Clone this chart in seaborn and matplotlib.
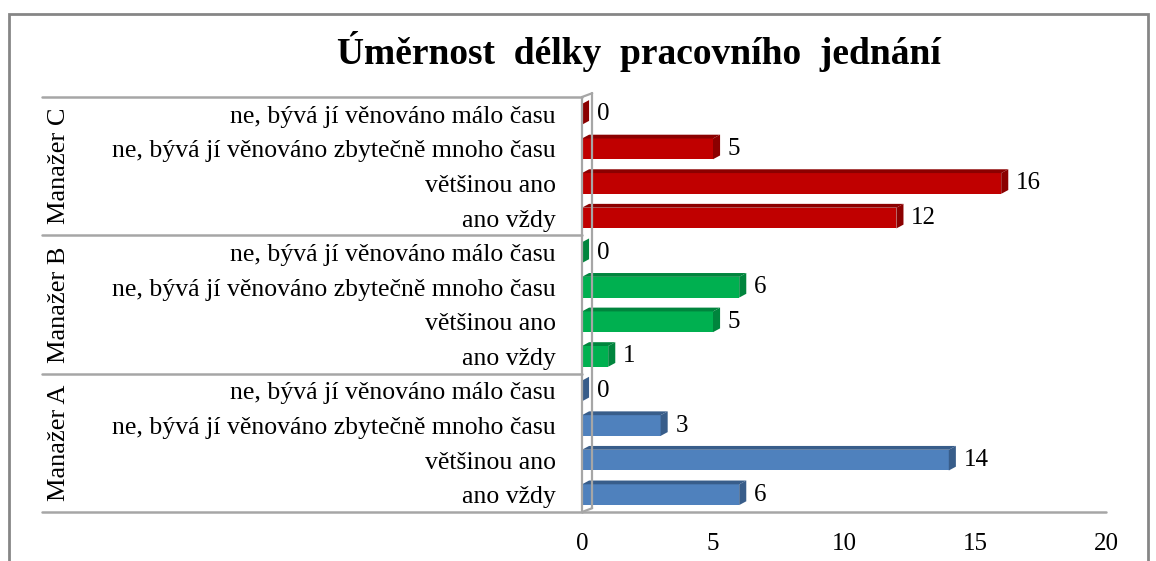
import pandas as pd
import matplotlib.pyplot as plt
import seaborn as sns
from matplotlib.patches import Polygon, Rectangle

# data
managers = ["Manažer A", "Manažer B", "Manažer C"]
categories = ["ano vždy", "většinou ano",
              "ne, bývá jí věnováno zbytečně mnoho času",
              "ne, bývá jí věnováno málo času"]
vals_a = [6, 14, 3, 0]
vals_b = [1, 5, 6, 0]
vals_c = [12, 16, 5, 0]
x_ticks = [0, 5, 10, 15, 20]

front = {"Manažer A": "#4F81BD", "Manažer B": "#00B050", "Manažer C": "#C00000"}
dark = {"Manažer A": "#385D8A", "Manažer B": "#00853D", "Manažer C": "#8B0000"}

rows = []
for m, vals in zip(managers, [vals_a, vals_b, vals_c]):
    for c, v in zip(categories, vals):
        rows.append({"manager": m, "category": c, "value": v, "key": m + "|" + c})
df = pd.DataFrame(rows)

# top to bottom: C, B, A; inside each group reversed category order
order = [m + "|" + c for m in reversed(managers) for c in reversed(categories)]

sns.set_theme(style="white")
plt.rcParams["font.family"] = ["Liberation Serif", "DejaVu Serif"]
plt.rcParams["text.color"] = "black"
plt.rcParams["xtick.color"] = "black"
plt.rcParams["ytick.color"] = "black"

fig = plt.figure(figsize=(11.56, 5.61), dpi=100)
ax_left, ax_right = 582, 1106
ax = fig.add_axes([ax_left / 1156, 1 - 512 / 561, (ax_right - ax_left) / 1156, (512 - 97) / 561])

sns.barplot(data=df, y="key", x="value", hue="manager", order=order,
            hue_order=managers, palette=front, dodge=False, width=0.6,
            saturation=1, legend=False, ax=ax)

ax.set_xlim(0, 20)
ax.set_ylim(len(order) - 0.5, -0.5)

# fake 3D depth, derived from each bar's geometry
dx, dy = 0.27, 0.11
key_to_manager = dict(zip(df["key"], df["manager"]))
for patch in list(ax.patches):
    x0, y0 = patch.get_x(), patch.get_y()
    w, h = patch.get_width(), patch.get_height()
    yc = y0 + h / 2
    idx = int(round(yc))
    if idx < 0 or idx >= len(order):
        continue
    m = key_to_manager[order[idx]]
    patch.set_edgecolor("none")
    top = Polygon([(x0, y0), (x0 + dx, y0 - dy), (x0 + w + dx, y0 - dy), (x0 + w, y0)],
                  closed=True, fc=dark[m], ec="none")
    side = Polygon([(x0 + w, y0), (x0 + w + dx, y0 - dy), (x0 + w + dx, y0 + h - dy), (x0 + w, y0 + h)],
                   closed=True, fc=dark[m], ec="none")
    ax.add_patch(top)
    ax.add_patch(side)
    val = df.loc[df["key"] == order[idx], "value"].iloc[0]
    ax.text(x0 + w + dx + 0.3, yc, f"{val:g}", va="center", ha="left", fontsize=18)

# axes frame: back wall + floor
for s in ax.spines.values():
    s.set_visible(False)
grey = "#A6A6A6"
lo, hi = len(order) - 0.5, -0.5
ax.plot([dx + 0.12, dx + 0.12], [hi - dy, lo - dy], color=grey, lw=1.6, clip_on=False)
ax.plot([0, dx + 0.12], [hi, hi - dy], color=grey, lw=1.6, clip_on=False)
ax.plot([0, dx + 0.12], [lo, lo - dy], color=grey, lw=1.6, clip_on=False)
ax.plot([0, 0], [hi, lo], color=grey, lw=1.6, clip_on=False)
ax.plot([0, 20], [lo, lo], color=grey, lw=1.8, clip_on=False)

# group separators reaching into the label area
trans = ax.get_yaxis_transform()
sep_left = (42 - ax_left) / (ax_right - ax_left)
for b in [-0.5, 3.5, 7.5, 11.5]:
    ax.plot([sep_left, 0], [b, b], color=grey, lw=1.8, transform=trans, clip_on=False)

# tick labels
ax.set_yticks(range(len(order)))
ax.set_yticklabels([k.split("|")[1] for k in order], fontsize=18.5)
ax.set_xticks(x_ticks)
ax.set_xticklabels([str(t) for t in x_ticks], fontsize=18)
ax.tick_params(axis="y", length=0, pad=19)
ax.tick_params(axis="x", length=0, pad=15)
ax.set_xlabel("")
ax.set_ylabel("")
ax.grid(False)

# rotated group names
lab_x = (59 - ax_left) / (ax_right - ax_left)
for i, m in enumerate(reversed(managers)):
    ax.text(lab_x, 4 * i + 1.5, m, rotation=90, va="center", ha="center",
            fontsize=19, transform=trans)

fig.text(0.553, 1 - 52 / 561, "Úměrnost  délky  pracovního  jednání",
         ha="center", va="center", fontsize=27, fontweight="bold")

fig.patches.append(Rectangle((9 / 1156, -0.02), (1148 - 9) / 1156, 1 - 14 / 561 + 0.02,
                             transform=fig.transFigure, fill=False, ec="#868686", lw=2))

fig.savefig("out.png", dpi=100)
